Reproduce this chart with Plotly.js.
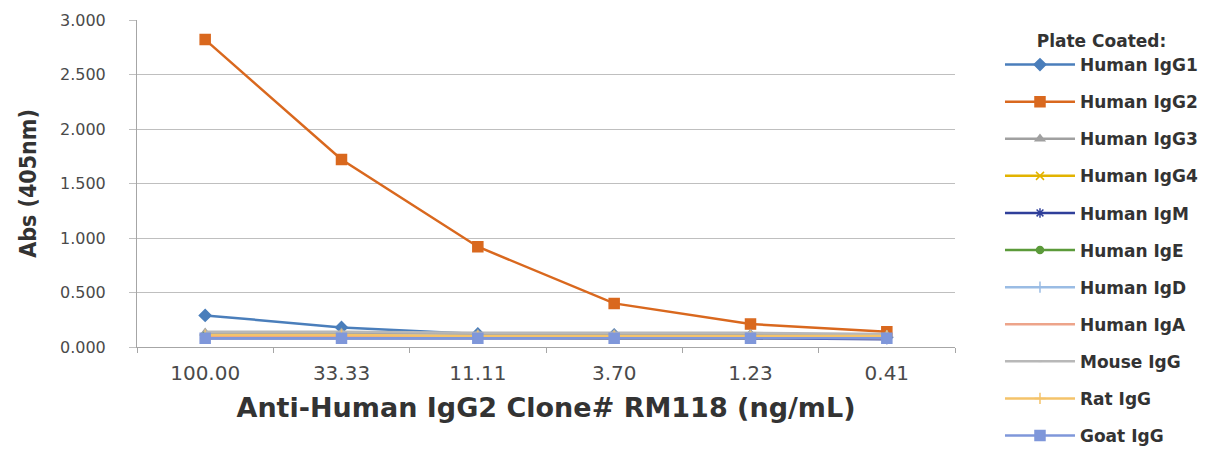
<!DOCTYPE html>
<html><head><meta charset="utf-8">
<script src="https://cdn.plot.ly/plotly-3.0.1.min.js"></script>
<style>html,body{margin:0;padding:0;background:#fff}#chart{width:1227px;height:450px}</style>
</head><body><div id="chart"></div>
<script>
const categories = ["100.00","33.33","11.11","3.70","1.23","0.41"];
const seriesNames = ["Human IgG1","Human IgG2","Human IgG3","Human IgG4","Human IgM","Human IgE","Human IgD","Human IgA","Mouse IgG","Rat IgG","Goat IgG"];
const humanIgG1 = [0.29,0.18,0.12,0.11,0.10,0.09];
const humanIgG2 = [2.82,1.72,0.92,0.40,0.21,0.14];
const humanIgG3 = [0.13,0.13,0.12,0.12,0.12,0.11];
const humanIgG4 = [0.09,0.09,0.09,0.08,0.08,0.08];
const humanIgM  = [0.08,0.08,0.08,0.08,0.08,0.07];
const humanIgE  = [0.10,0.10,0.09,0.09,0.09,0.09];
const humanIgD  = [0.11,0.11,0.10,0.10,0.10,0.10];
const humanIgA  = [0.09,0.09,0.09,0.09,0.09,0.08];
const mouseIgG  = [0.14,0.14,0.13,0.13,0.13,0.12];
const ratIgG    = [0.11,0.11,0.10,0.10,0.10,0.10];
const goatIgG   = [0.08,0.08,0.08,0.08,0.08,0.08];
const seriesValues = [humanIgG1,humanIgG2,humanIgG3,humanIgG4,humanIgM,humanIgE,humanIgD,humanIgA,mouseIgG,ratIgG,goatIgG];
const colors = ["#4a7ebb","#d9681e","#a0a0a0","#e2b300","#2f3f9a","#5b9a3a","#9abce4","#eda48a","#b8b8b8","#f4c36a","#7f97da"];
const symbols = ["diamond","square","triangle-up","x-thin-open","asterisk-open","circle","cross-thin-open","line-ew-open","line-ew-open","cross-thin-open","square"];
const sizes = [9,10,8,8,8,7,8,1,1,8,10];

const data = seriesNames.map((n,i)=>({
  type:"scatter", mode:"lines+markers", name:n, x:categories, y:seriesValues[i],
  legendgroup:"g"+i,
  line:{color:colors[i], width:2.5},
  marker:{symbol:symbols[i], size:sizes[i], color:colors[i], line:{color:colors[i], width:1.5}}
}));

const layout = {
  width:1227, height:450,
  margin:{l:137, r:272, t:20, b:103, autoexpand:false},
  paper_bgcolor:"#fff", plot_bgcolor:"#fff",
  font:{family:"DejaVu Sans", color:"#404040"},
  xaxis:{type:"category", range:[-0.5,5.5], showgrid:false, showline:true, linecolor:"#a6a6a6", linewidth:1,
    ticks:"outside", tickson:"boundaries", ticklen:5, tickcolor:"#a6a6a6", ticklabelstandoff:8,
    tickfont:{size:20, color:"#4a4a4a", family:"DejaVu Sans"},
    title:{text:"Anti-Human IgG2 Clone# RM118 (ng/mL)", font:{size:27, family:"DejaVu Sans", weight:"bold", color:"#333"}, standoff:14}},
  yaxis:{range:[0,3], dtick:0.5, tickformat:".3f", showgrid:true, gridcolor:"#bfbfbf", gridwidth:1,
    showline:true, linecolor:"#a6a6a6", ticks:"outside", ticklen:7, tickcolor:"#bfbfbf", ticklabelstandoff:20,
    zeroline:false, tickfont:{size:16, color:"#4a4a4a", family:"DejaVu Sans"},
    title:{text:"Abs (405nm)", font:{size:23, family:"Liberation Sans Narrow, DejaVu Sans Condensed, DejaVu Sans", weight:"bold", color:"#333"}, standoff:16}},
  legend:{x:1.055, xanchor:"left", y:0.985, yanchor:"top", traceorder:"grouped", tracegroupgap:12,
    itemwidth:70, maxheight:445,
    font:{size:17, family:"DejaVu Sans", weight:"bold", color:"#333"},
    title:{text:"Plate Coated:", side:"top center", font:{size:17, family:"DejaVu Sans", weight:"bold", color:"#333"}}},
  showlegend:true
};
Plotly.newPlot("chart", data, layout, {staticPlot:true});
</script></body></html>
